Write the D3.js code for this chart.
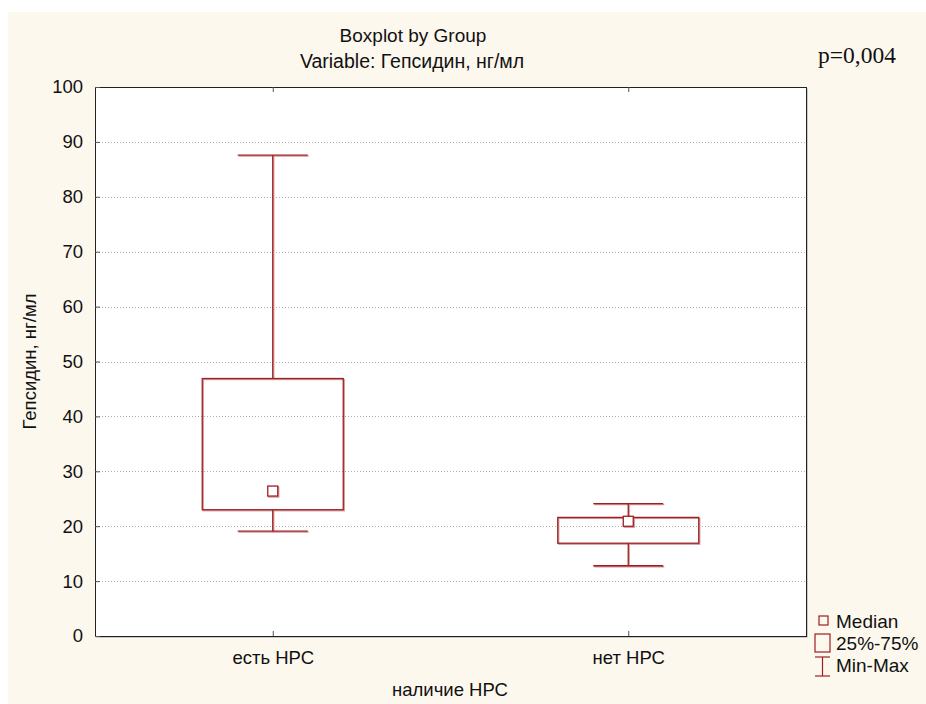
<!DOCTYPE html>
<html>
<head>
<meta charset="utf-8">
<script src="https://cdn.jsdelivr.net/npm/d3@7"></script>
<style>
  body { margin: 0; background: #fff; }
  svg text { font-family: "Liberation Sans", Arial, sans-serif; fill: #111; }
</style>
</head>
<body>
<script>
// data
var groups = ["есть НРС", "нет НРС"];
var mins = [19.1, 12.8];
var q1s = [23.0, 16.9];
var medians = [26.4, 20.9];
var q3s = [46.9, 21.6];
var maxs = [87.6, 24.1];
var yTicks = [0, 10, 20, 30, 40, 50, 60, 70, 80, 90, 100];

var W = 926, H = 704,
    pLeft = 95, pRight = 806, pTop = 87, pBottom = 636,
    red = "#9e1f22", redLight = "#cf9a9b";

var svg = d3.select("body").append("svg")
  .attr("width", W).attr("height", H);

// cream panel
svg.append("rect").attr("x", 8).attr("y", 12)
  .attr("width", W - 8).attr("height", H - 12)
  .attr("fill", "#fdf8ee");

var x = d3.scalePoint().domain(groups).range([pLeft, pRight]).padding(0.5);
var y = d3.scaleLinear().domain([0, 100]).range([pBottom, pTop]);

// plot area
svg.append("rect").attr("x", pLeft + 1.5).attr("y", pTop + 1.5)
  .attr("width", pRight - pLeft).attr("height", pBottom - pTop)
  .attr("fill", "#999");
svg.append("rect").attr("x", pLeft + 0.5).attr("y", pTop + 0.5)
  .attr("width", pRight - pLeft).attr("height", pBottom - pTop)
  .attr("fill", "#fff").attr("stroke", "#222").attr("stroke-width", 1);

// grid
svg.selectAll(".grid").data(yTicks.slice(1, -1)).enter().append("line")
  .attr("x1", pLeft + 1).attr("x2", pRight)
  .attr("y1", function(d){ return Math.round(y(d)) + 0.5; })
  .attr("y2", function(d){ return Math.round(y(d)) + 0.5; })
  .attr("stroke", "#b0b0b0").attr("stroke-dasharray", "1,2");

// axes
function styleAxis(g, fs) {
  g.select(".domain").remove();
  g.selectAll("line").attr("stroke", "#555");
  g.selectAll("text").attr("font-size", fs).attr("fill", "#111")
    .attr("font-family", "Liberation Sans, Arial, sans-serif");
}
var yAxis = d3.axisLeft(y).tickValues(yTicks).tickSize(-5).tickPadding(12);
svg.append("g").attr("transform", "translate(" + pLeft + ",0)").call(yAxis)
  .call(styleAxis, 18.5);

var xAxis = d3.axisBottom(x).tickSize(-5).tickPadding(15);
svg.append("g").attr("transform", "translate(0," + pBottom + ")").call(xAxis)
  .call(styleAxis, 18.5);

var xTop = d3.axisTop(x).tickSize(-5).tickFormat("");
svg.append("g").attr("transform", "translate(0," + pTop + ")").call(xTop)
  .call(styleAxis, 18);

// boxes
var boxW = 141, capW = 70, medS = 10;
var data = groups.map(function(g, i){
  return {g: g, min: mins[i], q1: q1s[i], med: medians[i], q3: q3s[i], max: maxs[i]};
});

function drawBox(sel, color, off) {
  sel.each(function(d){
    var gx = x(d.g) + off, el = d3.select(this);
    el.append("line").attr("x1", gx).attr("x2", gx)
      .attr("y1", y(d.max) + off).attr("y2", y(d.q3) + off);
    el.append("line").attr("x1", gx).attr("x2", gx)
      .attr("y1", y(d.q1) + off).attr("y2", y(d.min) + off);
    el.append("line").attr("x1", gx - capW / 2).attr("x2", gx + capW / 2)
      .attr("y1", y(d.max) + off).attr("y2", y(d.max) + off);
    el.append("line").attr("x1", gx - capW / 2).attr("x2", gx + capW / 2)
      .attr("y1", y(d.min) + off).attr("y2", y(d.min) + off);
    el.append("rect").attr("x", gx - boxW / 2).attr("y", y(d.q3) + off)
      .attr("width", boxW).attr("height", y(d.q1) - y(d.q3))
      .attr("fill", "none");
    el.append("rect").attr("x", gx - medS / 2).attr("y", y(d.med) - medS / 2 + off)
      .attr("width", medS).attr("height", medS)
      .attr("fill", off ? "none" : "#fff");
  }).attr("stroke", color).attr("stroke-width", 1.3);
}
svg.append("g").selectAll("g").data(data).enter().append("g").call(drawBox, redLight, 1);
svg.append("g").selectAll("g").data(data).enter().append("g").call(drawBox, red, 0);

// titles
svg.append("text").attr("x", 413).attr("y", 42).attr("text-anchor", "middle")
  .attr("font-size", 19).text("Boxplot by Group");
svg.append("text").attr("x", 412).attr("y", 68).attr("text-anchor", "middle")
  .attr("font-size", 19.5).text("Variable: Гепсидин, нг/мл");
svg.append("text").attr("x", 818).attr("y", 63)
  .attr("font-size", 23.5).style("font-family", "Liberation Serif, 'Times New Roman', serif")
  .text("p=0,004");
svg.append("text").attr("transform", "translate(36," + ((pTop + pBottom) / 2) + ") rotate(-90)")
  .attr("text-anchor", "middle").attr("font-size", 18.5).text("Гепсидин, нг/мл");
svg.append("text").attr("x", 450).attr("y", 696).attr("text-anchor", "middle")
  .attr("font-size", 18.5).text("наличие НРС");

// legend
var lg = svg.append("g").attr("stroke", red).attr("stroke-width", 1.2).attr("fill", "none");
lg.append("rect").attr("x", 819).attr("y", 616).attr("width", 9).attr("height", 9);
lg.append("rect").attr("x", 815).attr("y", 634).attr("width", 15).attr("height", 18);
lg.append("line").attr("x1", 815).attr("x2", 830).attr("y1", 657).attr("y2", 657);
lg.append("line").attr("x1", 815).attr("x2", 830).attr("y1", 676).attr("y2", 676);
lg.append("line").attr("x1", 822.5).attr("x2", 822.5).attr("y1", 657).attr("y2", 676);
var legendText = ["Median", "25%-75%", "Min-Max"];
svg.selectAll(".lt").data(legendText).enter().append("text")
  .attr("x", 836).attr("y", function(d, i){ return 628 + i * 22; })
  .attr("font-size", 19).text(function(d){ return d; });
</script>
</body>
</html>
